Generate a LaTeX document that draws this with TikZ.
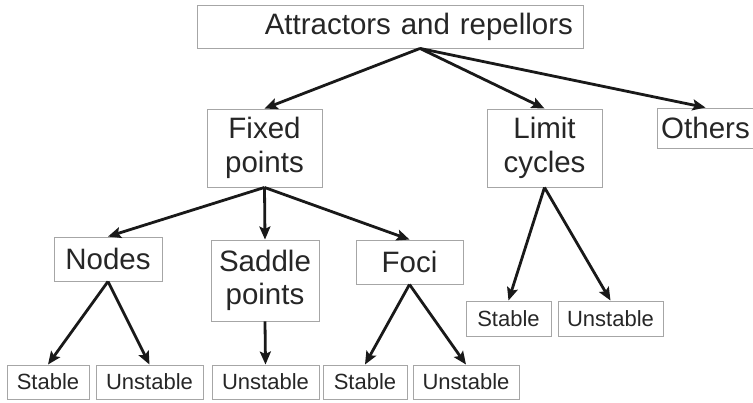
\documentclass[tikz,border=0pt]{standalone}
\usepackage{fontspec}
\setmainfont{Liberation Sans}
\usetikzlibrary{arrows.meta}
\begin{document}
\begin{tikzpicture}[x=1pt,y=-1pt,
  box/.style={draw=gray!70,line width=0.9pt,inner sep=0pt,align=center,
    text=black!85,font=\fontsize{29.5}{33.5}\selectfont},
  leaf/.style={box,minimum height=34pt,font=\fontsize{22}{24}\selectfont},
  arr/.style={draw=black!90,line width=2.8pt,-{Stealth[length=13pt,width=11pt,inset=2.5pt]}}]
  \useasboundingbox (0,0) rectangle (753,402);
  % first and second level
  \node[box,minimum height=43pt,text width=366pt,align=right,inner xsep=10pt]
    (top) at (390,26.5) {Attractors and repellors};
  \node[box,minimum width=115pt,minimum height=78pt] (fixed) at (264.5,148) {Fixed\\points};
  \node[box,minimum width=115pt,minimum height=78pt] (limit) at (544.5,148) {Limit\\cycles};
  \node[box,minimum width=97pt,minimum height=40pt] (others) at (705.5,128) {Others};
  \node[box,minimum width=108pt,minimum height=44pt] (nodes) at (108,259) {Nodes};
  \node[box,minimum width=108pt,minimum height=81pt] (saddle) at (265,280.5) {Saddle\\points};
  \node[box,minimum width=107pt,minimum height=44pt] (foci) at (409.5,262) {Foci};
  % leaves
  \node[leaf,minimum width=82pt] (nstable) at (48,382) {Stable};
  \node[leaf,minimum width=107pt] (nunstable) at (149.5,382) {Unstable};
  \node[leaf,minimum width=107pt] (sunstable) at (265.5,382) {Unstable};
  \node[leaf,minimum width=84pt] (fstable) at (365,382) {Stable};
  \node[leaf,minimum width=106pt] (funstable) at (466,382) {Unstable};
  \node[leaf,minimum width=85pt,minimum height=35pt] (lstable) at (508.5,318.5) {Stable};
  \node[leaf,minimum width=105pt,minimum height=35pt] (lunstable) at (610.5,318.5) {Unstable};
  \coordinate (fork) at ([xshift=30pt]top.south);
  % arrows
  \draw[arr] (fork) -- (fixed.north);
  \draw[arr] (fork) -- (limit.north);
  \draw[arr] (fork) -- (others.north);
  \draw[arr] (fixed.south) -- (nodes.north);
  \draw[arr] (fixed.south) -- (saddle.north);
  \draw[arr] (fixed.south) -- (foci.north);
  \draw[arr] (nodes.south) -- (nstable.north);
  \draw[arr] (nodes.south) -- (nunstable.north);
  \draw[arr] (saddle.south) -- (sunstable.north);
  \draw[arr] (foci.south) -- (fstable.north);
  \draw[arr] (foci.south) -- (funstable.north);
  \draw[arr] (limit.south) -- (lstable.north);
  \draw[arr] (limit.south) -- (lunstable.north);
\end{tikzpicture}
\end{document}
